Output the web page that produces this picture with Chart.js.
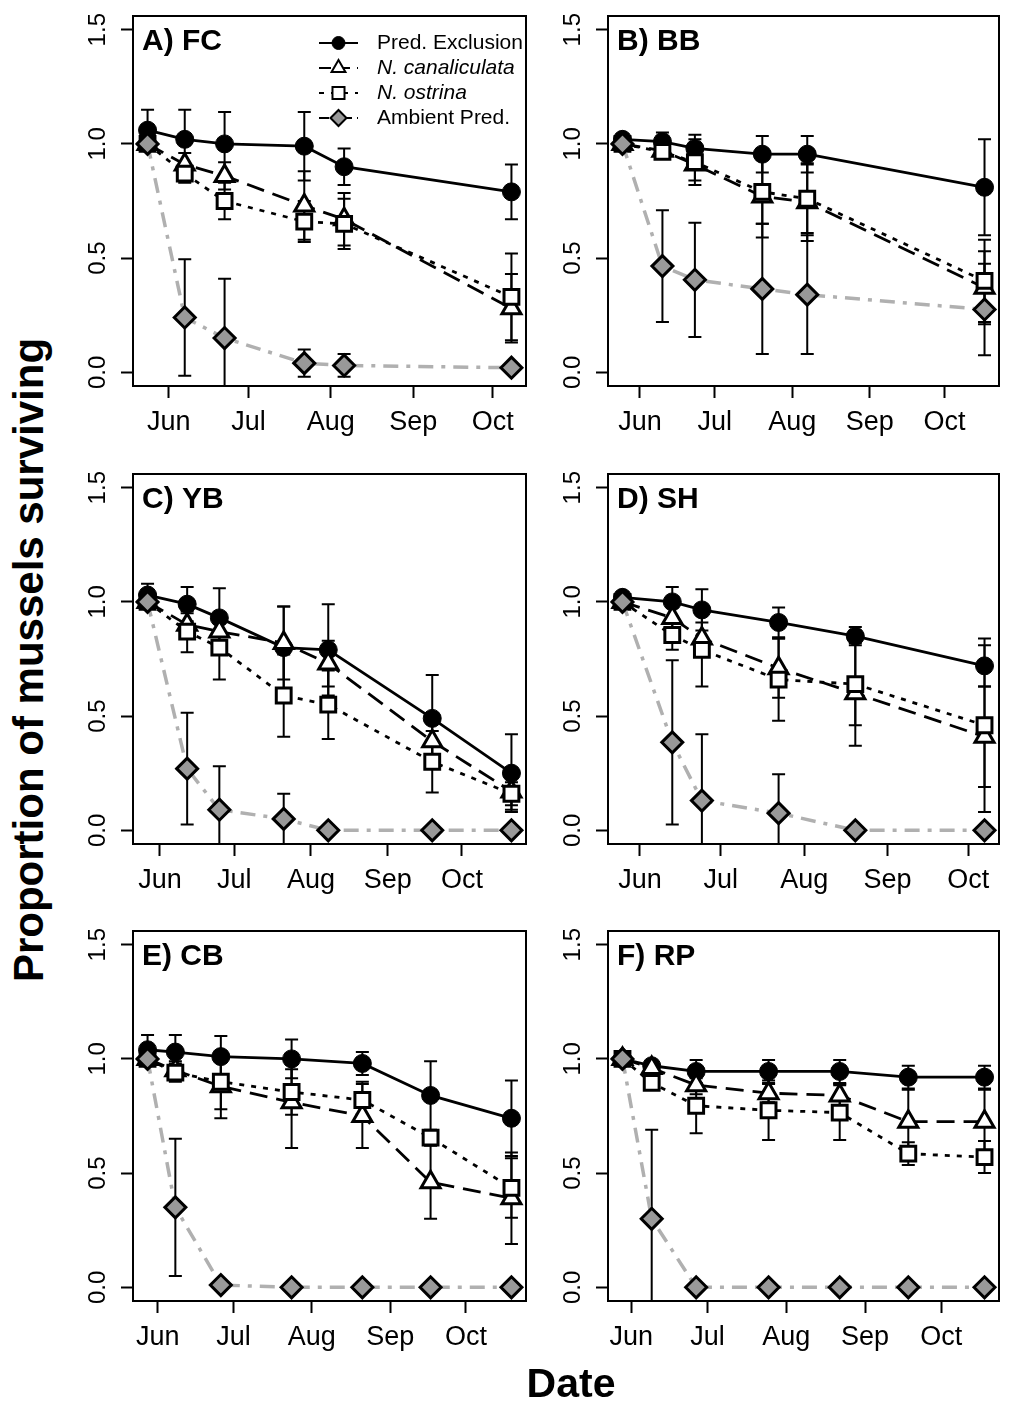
<!DOCTYPE html>
<html lang="en">
<head>
<meta charset="UTF-8" />
<title>Proportion of mussels surviving</title>
<style>
    body {
        margin: 0;
        background: #ffffff;
        font-family: "Liberation Sans", Arial, sans-serif;
    }
    #page {
        position: relative;
        width: 1013px;
        height: 1416px;
        background: #ffffff;
    }
    canvas {
        position: absolute;
    }
    .axisTitle {
        position: absolute;
        font-weight: bold;
        font-size: 41px;
        line-height: 1;
        white-space: nowrap;
        color: #000000;
    }
    #yTitle {
        left: 29px;
        top: 660px;
        font-size: 42px;
        transform: translate(-50%, -50%) rotate(-90deg);
    }
    #xTitle {
        left: 571px;
        top: 1383px;
        transform: translate(-50%, -50%);
    }
</style>
</head>
<body>
<div id="page">
    <canvas id="pA" width="480" height="450" style="left:60px;top:0px"></canvas>
    <canvas id="pB" width="473" height="450" style="left:540px;top:0px"></canvas>
    <canvas id="pC" width="480" height="450" style="left:60px;top:458px"></canvas>
    <canvas id="pD" width="473" height="450" style="left:540px;top:458px"></canvas>
    <canvas id="pE" width="480" height="450" style="left:60px;top:915px"></canvas>
    <canvas id="pF" width="473" height="450" style="left:540px;top:915px"></canvas>
    <div class="axisTitle" id="yTitle">Proportion of mussels surviving</div>
    <div class="axisTitle" id="xTitle">Date</div>
</div>

<script src="https://cdn.jsdelivr.net/npm/chart.js"></script>
<script>
    // axis ticks (x = days since 1 June)
    const monthDays = [0, 30, 61, 92, 122];
    const monthNames = ["Jun", "Jul", "Aug", "Sep", "Oct"];
    const yTicks = [0, 0.5, 1.0, 1.5];
    const seriesNames = ["Pred. Exclusion", "N. canaliculata", "N. ostrina", "Ambient Pred."];

    // A) FC
    const fcDays = [-8, 6, 21, 51, 66, 129];
    const fcExcl = [1.06, 1.02, 1.00, 0.99, 0.90, 0.79];
    const fcExclSE = [0.09, 0.13, 0.14, 0.15, 0.08, 0.12];
    const fcCanal = [1.00, 0.91, 0.86, 0.73, 0.67, 0.28];
    const fcCanalSE = [0, 0.05, 0.06, 0.15, 0.115, 0.15];
    const fcOstr = [1.00, 0.87, 0.75, 0.66, 0.65, 0.33];
    const fcOstrSE = [0, 0.04, 0.08, 0.09, 0.11, 0.19];
    const fcAmb = [1.00, 0.24, 0.15, 0.04, 0.03, 0.02];
    const fcAmbSE = [0, 0.255, 0.26, 0.06, 0.05, 0];

    // B) BB
    const bbDays = [-7, 9, 22, 49, 67, 138];
    const bbExcl = [1.02, 1.01, 0.98, 0.955, 0.955, 0.81];
    const bbExclSE = [0.02, 0.04, 0.06, 0.08, 0.08, 0.21];
    const bbCanal = [1.00, 0.97, 0.91, 0.77, 0.745, 0.37];
    const bbCanalSE = [0, 0.03, 0.07, 0.18, 0.17, 0.16];
    const bbOstr = [1.00, 0.965, 0.92, 0.79, 0.76, 0.40];
    const bbOstrSE = [0, 0.03, 0.10, 0.14, 0.15, 0.18];
    const bbAmb = [1.00, 0.465, 0.405, 0.365, 0.34, 0.275];
    const bbAmbSE = [0, 0.245, 0.25, 0.285, 0.26, 0.20];

    // C) YB
    const ybDays = [-5, 11, 24, 50, 68, 110, 142];
    const ybExcl = [1.03, 0.99, 0.93, 0.80, 0.79, 0.49, 0.25];
    const ybExclSE = [0.05, 0.075, 0.13, 0.18, 0.20, 0.19, 0.17];
    const ybCanal = [1.00, 0.90, 0.87, 0.82, 0.73, 0.39, 0.17];
    const ybCanalSE = [0, 0.05, 0.06, 0.16, 0.10, 0.10, 0.08];
    const ybOstr = [1.00, 0.87, 0.80, 0.59, 0.55, 0.30, 0.16];
    const ybOstrSE = [0, 0.09, 0.14, 0.18, 0.15, 0.135, 0.05];
    const ybAmb = [1.00, 0.27, 0.09, 0.05, 0, 0, 0];
    const ybAmbSE = [0, 0.245, 0.19, 0.11, 0, 0, 0];

    // D) SH
    const shDays = [-6.5, 12, 23, 51.5, 80, 128];
    const shExcl = [1.02, 1.00, 0.965, 0.91, 0.85, 0.72];
    const shExclSE = [0.02, 0.065, 0.09, 0.065, 0.04, 0.09];
    const shCanal = [1.00, 0.93, 0.84, 0.71, 0.60, 0.41];
    const shCanalSE = [0, 0.05, 0.07, 0.13, 0.23, 0.22];
    const shOstr = [1.00, 0.855, 0.79, 0.66, 0.64, 0.46];
    const shOstrSE = [0, 0.065, 0.16, 0.18, 0.18, 0.38];
    const shAmb = [1.00, 0.385, 0.13, 0.075, 0, 0];
    const shAmbSE = [0, 0.36, 0.29, 0.17, 0, 0];

    // E) CB
    const cbDays = [-4, 7, 25, 53, 81, 108, 140];
    const cbExcl = [1.04, 1.03, 1.01, 1.00, 0.98, 0.84, 0.74];
    const cbExclSE = [0.065, 0.075, 0.09, 0.085, 0.05, 0.15, 0.165];
    const cbCanal = [1.00, 0.95, 0.88, 0.81, 0.75, 0.46, 0.39];
    const cbCanalSE = [0, 0.04, 0.14, 0.20, 0.14, 0.16, 0.20];
    const cbOstr = [1.00, 0.94, 0.90, 0.855, 0.82, 0.655, 0.435];
    const cbOstrSE = [0, 0.04, 0.12, 0.10, 0.08, 0.03, 0.13];
    const cbAmb = [1.00, 0.35, 0.01, 0, 0, 0, 0];
    const cbAmbSE = [0, 0.30, 0, 0, 0, 0, 0];

    // F) RP
    const rpDays = [-3.5, 8, 25.5, 54, 82, 109, 139];
    const rpExcl = [1.00, 0.97, 0.945, 0.945, 0.945, 0.92, 0.92];
    const rpExclSE = [0, 0.02, 0.05, 0.05, 0.05, 0.05, 0.05];
    const rpCanal = [1.00, 0.96, 0.885, 0.85, 0.84, 0.725, 0.725];
    const rpCanalSE = [0, 0.02, 0.04, 0.04, 0.05, 0.14, 0.14];
    const rpOstr = [1.00, 0.895, 0.795, 0.775, 0.765, 0.585, 0.57];
    const rpOstrSE = [0, 0.03, 0.12, 0.13, 0.12, 0.05, 0.07];
    const rpAmb = [1.00, 0.30, 0, 0, 0, 0, 0];
    const rpAmbSE = [0, 0.39, 0, 0, 0, 0, 0];

    const FONT = '"Liberation Sans", Arial, sans-serif';
    Chart.defaults.font.family = FONT;
    Chart.defaults.color = "#000000";

    // line / marker look of the four treatments
    const seriesStyles = [
        { borderColor: "#000000", borderWidth: 2.8, borderDash: [], pointStyle: "circle", pointRadius: 9,
          pointBackgroundColor: "#000000", pointBorderColor: "#000000", pointBorderWidth: 1 },
        { borderColor: "#000000", borderWidth: 2.8, borderDash: [18, 9], pointStyle: "triangle", pointRadius: 11,
          pointBackgroundColor: "#ffffff", pointBorderColor: "#000000", pointBorderWidth: 3 },
        { borderColor: "#000000", borderWidth: 2.8, borderDash: [5, 7], pointStyle: "rect", pointRadius: 10.5,
          pointBackgroundColor: "#ffffff", pointBorderColor: "#000000", pointBorderWidth: 3 },
        { borderColor: "#b0b0b0", borderWidth: 3.5, borderDash: [15, 8, 4, 8], pointStyle: "rectRot", pointRadius: 10.5,
          pointBackgroundColor: "#999999", pointBorderColor: "#000000", pointBorderWidth: 3 }
    ];
    const legendRadius = [6.5, 8, 8.5, 8];

    // R-style 4% axis extension around the sampling dates
    function padRange(d) {
        const lo = Math.min(...d), hi = Math.max(...d);
        const e = (hi - lo) * 0.04;
        return [lo - e, hi + e];
    }

    // vertical SE bars, drawn under the markers
    const errorBars = {
        id: "errorBars",
        beforeDatasetsDraw(chart) {
            const { ctx, chartArea: a, scales: { x, y } } = chart;
            ctx.save();
            ctx.beginPath();
            ctx.rect(a.left, a.top, a.right - a.left, a.bottom - a.top);
            ctx.clip();
            ctx.strokeStyle = "#000000";
            ctx.lineWidth = 2;
            ctx.setLineDash([]);
            chart.data.datasets.forEach(ds => {
                ds.data.forEach((p, i) => {
                    const e = ds.errors[i];
                    if (!e) return;
                    const px = x.getPixelForValue(p.x);
                    const yt = y.getPixelForValue(p.y + e);
                    const yb = y.getPixelForValue(p.y - e);
                    ctx.beginPath();
                    ctx.moveTo(px, yt); ctx.lineTo(px, yb);
                    ctx.moveTo(px - 6.5, yt); ctx.lineTo(px + 6.5, yt);
                    ctx.moveTo(px - 6.5, yb); ctx.lineTo(px + 6.5, yb);
                    ctx.stroke();
                });
            });
            ctx.restore();
        }
    };

    function drawLegend(ctx, a) {
        const x0 = a.left + 186, x1 = a.left + 225, xm = (x0 + x1) / 2, xt = a.left + 244;
        seriesNames.forEach((name, k) => {
            const yy = a.top + 27 + k * 25;
            const st = seriesStyles[k];
            ctx.setLineDash(k === 3 ? [10, 5, 3, 5] : (k === 1 ? [12, 7] : st.borderDash));
            ctx.strokeStyle = "#000000";
            ctx.lineWidth = 2;
            ctx.beginPath();
            ctx.moveTo(x0, yy);
            ctx.lineTo(x1, yy);
            ctx.stroke();
            ctx.setLineDash([]);
            ctx.fillStyle = st.pointBackgroundColor;
            ctx.strokeStyle = "#000000";
            ctx.lineWidth = k === 0 ? 1 : 2;
            Chart.helpers.drawPoint(ctx, { pointStyle: st.pointStyle, radius: legendRadius[k], borderWidth: ctx.lineWidth }, xm, yy);
            ctx.fillStyle = "#000000";
            ctx.font = (k === 1 || k === 2 ? "italic " : "") + "21px " + FONT;
            ctx.textAlign = "left";
            ctx.textBaseline = "middle";
            ctx.fillText(name, xt, yy);
        });
    }

    // frame, rotated y labels, panel letter and legend
    const panelDeco = {
        id: "panelDeco",
        afterDraw(chart, args, opts) {
            const { ctx, chartArea: a, scales: { y } } = chart;
            ctx.save();
            ctx.setLineDash([]);
            ctx.strokeStyle = "#000000";
            ctx.lineWidth = 2;
            ctx.strokeRect(a.left, a.top, a.right - a.left, a.bottom - a.top);

            ctx.fillStyle = "#000000";
            ctx.font = "24px " + FONT;
            ctx.textAlign = "center";
            ctx.textBaseline = "alphabetic";
            yTicks.forEach(v => {
                ctx.save();
                ctx.translate(a.left - 28, y.getPixelForValue(v));
                ctx.rotate(-Math.PI / 2);
                ctx.fillText(v.toFixed(1), 0, 0);
                ctx.restore();
            });

            ctx.font = "bold 30px " + FONT;
            ctx.textAlign = "left";
            ctx.fillText(opts.label, a.left + 9, a.top + 34);

            if (opts.legend) drawLegend(ctx, a);
            ctx.restore();
        }
    };

    const panels = [
        { id: "pA", label: "A) FC", days: fcDays, vals: [fcExcl, fcCanal, fcOstr, fcAmb],
          ses: [fcExclSE, fcCanalSE, fcOstrSE, fcAmbSE], axisW: 73, padRight: 7, legend: true },
        { id: "pB", label: "B) BB", days: bbDays, vals: [bbExcl, bbCanal, bbOstr, bbAmb],
          ses: [bbExclSE, bbCanalSE, bbOstrSE, bbAmbSE], axisW: 68, padRight: 4, legend: false },
        { id: "pC", label: "C) YB", days: ybDays, vals: [ybExcl, ybCanal, ybOstr, ybAmb],
          ses: [ybExclSE, ybCanalSE, ybOstrSE, ybAmbSE], axisW: 73, padRight: 7, legend: false },
        { id: "pD", label: "D) SH", days: shDays, vals: [shExcl, shCanal, shOstr, shAmb],
          ses: [shExclSE, shCanalSE, shOstrSE, shAmbSE], axisW: 68, padRight: 4, legend: false },
        { id: "pE", label: "E) CB", days: cbDays, vals: [cbExcl, cbCanal, cbOstr, cbAmb],
          ses: [cbExclSE, cbCanalSE, cbOstrSE, cbAmbSE], axisW: 73, padRight: 7, legend: false },
        { id: "pF", label: "F) RP", days: rpDays, vals: [rpExcl, rpCanal, rpOstr, rpAmb],
          ses: [rpExclSE, rpCanalSE, rpOstrSE, rpAmbSE], axisW: 68, padRight: 4, legend: false }
    ];

    function buildPanel(p) {
        const datasets = p.vals.map((v, k) => Object.assign({
            label: seriesNames[k],
            data: v.map((val, i) => ({ x: p.days[i], y: val })),
            errors: p.ses[k],
            order: 4 - k,
            tension: 0,
            fill: false
        }, seriesStyles[k]));
        const [xmin, xmax] = padRange(p.days);
        const tickGrid = { drawOnChartArea: false, drawTicks: true, tickLength: 12, tickWidth: 2, tickColor: "#000000" };

        new Chart(document.getElementById(p.id), {
            type: "line",
            data: { datasets: datasets },
            options: {
                responsive: false,
                animation: false,
                events: [],
                layout: { padding: { top: 16, right: p.padRight, left: 0, bottom: 0 } },
                plugins: {
                    legend: { display: false },
                    tooltip: { enabled: false },
                    panelDeco: { label: p.label, legend: p.legend }
                },
                scales: {
                    x: {
                        type: "linear",
                        min: xmin,
                        max: xmax,
                        afterBuildTicks: s => { s.ticks = monthDays.map(v => ({ value: v })); },
                        afterFit: s => { s.height = 64; },
                        ticks: {
                            callback: v => monthNames[monthDays.indexOf(v)],
                            font: { size: 27 },
                            color: "#000000",
                            padding: 8,
                            maxRotation: 0,
                            autoSkip: false
                        },
                        grid: tickGrid,
                        border: { display: false }
                    },
                    y: {
                        type: "linear",
                        min: -0.06,
                        max: 1.56,
                        afterBuildTicks: s => { s.ticks = yTicks.map(v => ({ value: v })); },
                        afterFit: s => { s.width = p.axisW; },
                        ticks: { display: false },
                        grid: tickGrid,
                        border: { display: false }
                    }
                }
            },
            plugins: [errorBars, panelDeco]
        });
    }

    panels.forEach(buildPanel);
</script>
</body>
</html>
